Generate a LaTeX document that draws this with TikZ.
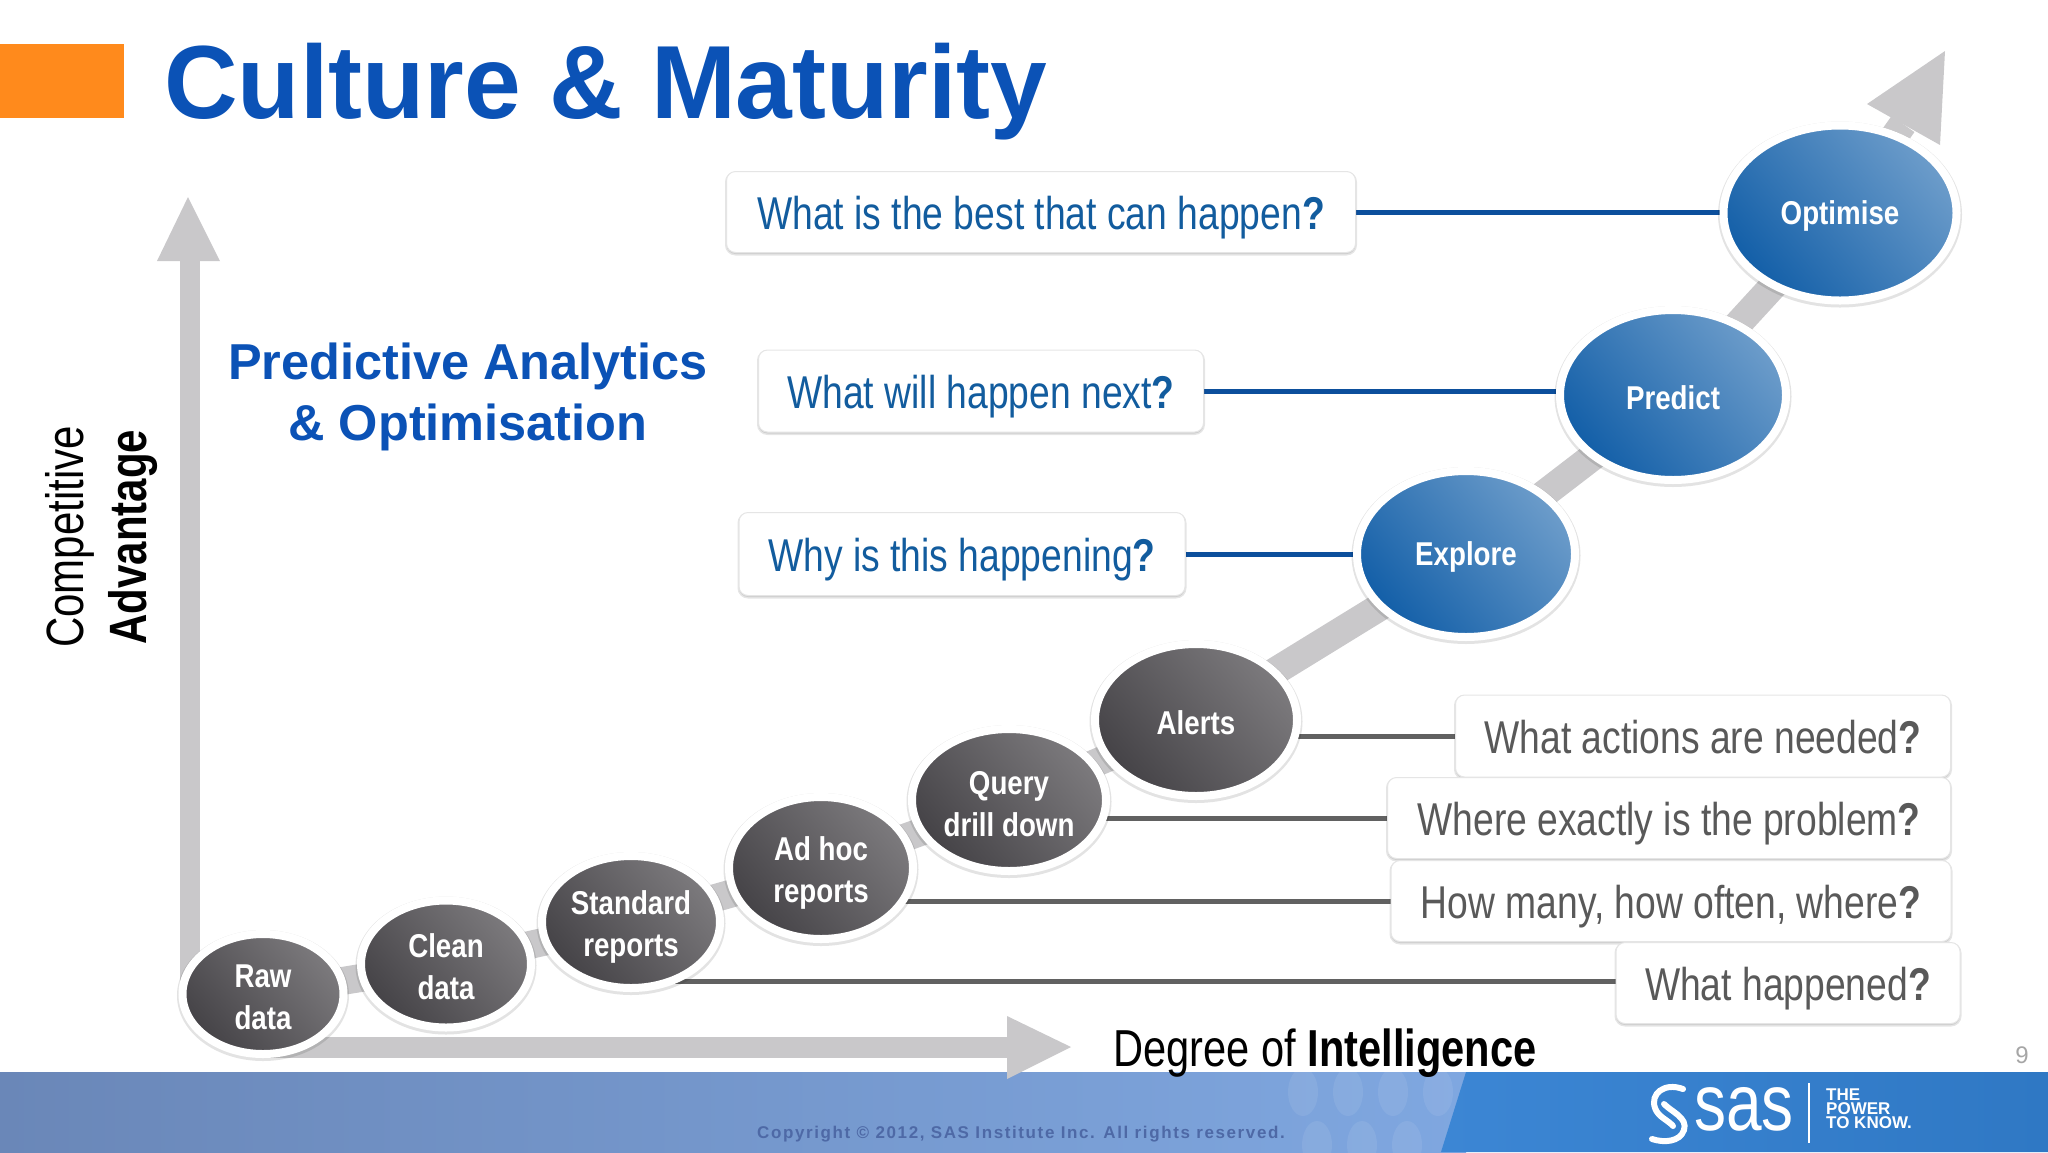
\documentclass[tikz,border=0pt]{standalone}
\usepackage{fontspec}
\setmainfont{Liberation Sans}
\newfontfamily\condfont[FakeStretch=0.8]{Liberation Sans}
\newfontfamily\askfont[FakeStretch=0.81]{Liberation Sans}
\newfontfamily\stagefont[FakeStretch=0.84]{Liberation Sans}
\newfontfamily\titlefont[FakeStretch=0.98]{Liberation Sans}
\usetikzlibrary{shapes.geometric,shadows,backgrounds}
\definecolor{sasblue}{HTML}{0B52B6}
\definecolor{linkblue}{HTML}{0C4F9C}
\definecolor{asktext}{HTML}{125C9E}
\definecolor{shaftgray}{HTML}{C9C8CA}
\definecolor{stagelight}{HTML}{6C9CCA}
\definecolor{stagedark}{HTML}{135FA8}
\definecolor{graylight}{HTML}{7C7A7D}
\definecolor{graydark}{HTML}{454347}
\definecolor{bandleft}{HTML}{6A87B8}
\definecolor{bandmid}{HTML}{7391CC}
\definecolor{bandright}{HTML}{7FA7E0}
\definecolor{sasleft}{HTML}{3C86D4}
\definecolor{sasright}{HTML}{2F78C4}
\definecolor{copytext}{HTML}{4E69A6}
\tikzset{
	stage/.style={ellipse, draw=white, line width=8pt, inner sep=0pt, align=center, text=white,
		font=\stagefont\bfseries\fontsize{33}{42}\selectfont, execute at begin node=\rule{0pt}{29pt},
		drop shadow={fill=black, draw=black, line width=11pt, opacity=0.11, shadow xshift=0pt, shadow yshift=-1.5pt}},
	twolines/.style={text depth=0pt, text height=#1},
	twolines/.default=70pt,
	graystage/.style={stage, top color=graylight, bottom color=graydark, shading angle=-50},
	bluestage/.style={stage, top color=stagelight, bottom color=stagedark, shading angle=-50},
	askbox/.style={rectangle, rounded corners=9pt, draw=black!10, line width=1pt, fill=white, inner sep=0pt,
		font=\askfont\fontsize{46}{50}\selectfont, text height=43pt, text depth=9pt,
		drop shadow={fill=black, draw=black, line width=3pt, opacity=0.1, shadow xshift=0pt, shadow yshift=-1.5pt}},
	shaft/.style={draw=shaftgray, line width=#1},
	bluelink/.style={draw=linkblue, line width=5pt},
	graylink/.style={draw=black!62, line width=5pt}
}
\begin{document}
\begin{tikzpicture}[x=1pt, y=-1pt]
	%%%%% START %%%%%
	\useasboundingbox (0, 0) rectangle (2048, 1152);
	
	\fill[fill={rgb,255:red,255;green,138;blue,28}] (0, 44) rectangle (124, 118);
	\node[anchor=base west, inner sep=0pt, text=sasblue, font=\titlefont\bfseries\fontsize{104}{110}\selectfont] (title) at (164, 118) {Culture \& Maturity};
	
	\node[align=center, text=sasblue, font=\bfseries\fontsize{50.5}{61}\selectfont] (subtitle) at (468, 397) {Predictive Analytics\\\& Optimisation};
	\node[rotate=90, font=\condfont\fontsize{52.5}{54}\selectfont] (competitive) at (70, 537) {Competitive};
	\node[rotate=90, font=\condfont\bfseries\fontsize{52.5}{54}\selectfont] (advantage) at (133, 537) {Advantage};
	\node[anchor=base, inner sep=0pt, font=\condfont\fontsize{52}{54}\selectfont] (degree) at (1325, 1066) {Degree of \textbf{Intelligence}};
	
	% stages
	\node[graystage, twolines, minimum width=161pt, minimum height=120pt] (raw) at (263, 994) {Raw\\data};
	\node[graystage, twolines, minimum width=170pt, minimum height=127pt] (clean) at (446, 964) {Clean\\data};
	\node[graystage, twolines=69pt, minimum width=178pt, minimum height=132pt] (standard) at (631, 922) {Standard\\reports};
	\node[graystage, twolines=69pt, minimum width=184pt, minimum height=142pt] (adhoc) at (821, 868) {Ad hoc\\reports};
	\node[graystage, twolines=72pt, minimum width=194pt, minimum height=142pt] (query) at (1009, 800) {Query\\drill down};
	\node[graystage, minimum width=202pt, minimum height=152pt] (alerts) at (1196, 720) {Alerts};
	\node[bluestage, minimum width=218pt, minimum height=166pt] (explore) at (1466, 554) {Explore};
	\node[bluestage, minimum width=226pt, minimum height=170pt] (predict) at (1673, 395) {Predict};
	\node[bluestage, minimum width=233pt, minimum height=175pt] (optimise) at (1840, 213) {Optimise};
	
	% questions
	\node[askbox, text=asktext, minimum width=629pt, minimum height=81pt] (best) at (1041, 212) {What is the best that can happen\textbf{?}};
	\node[askbox, text=asktext, minimum width=445pt, minimum height=82pt] (next) at (981, 391) {What will happen next\textbf{?}};
	\node[askbox, text=asktext, minimum width=446pt, minimum height=83pt] (why) at (962, 554) {Why is this happening\textbf{?}};
	\node[askbox, text=black!65, minimum width=495pt, minimum height=82pt] (actions) at (1703, 736) {What actions are needed\textbf{?}};
	\node[askbox, text=black!65, minimum width=563pt, minimum height=81pt] (problem) at (1669, 818) {Where exactly is the problem\textbf{?}};
	\node[askbox, text=black!65, minimum width=560pt, minimum height=81pt] (often) at (1671, 901) {How many, how often, where\textbf{?}};
	\node[askbox, text=black!65, minimum width=344pt, minimum height=81pt] (happened) at (1788, 983) {What happened\textbf{?}};
	
	% footer
	\node[text=black!35, font=\fontsize{24}{26}\selectfont] (page) at (2022, 1055) {9};
	\node[anchor=base, inner sep=0pt, text=copytext, font=\bfseries\fontsize{17}{20}\selectfont\addfontfeature{LetterSpace=9.5}] (copyright) at (1021, 1138) {Copyright © 2012, SAS Institute Inc. All rights reserved.};
	\node[anchor=base west, inner sep=0pt, text=white, font=\condfont\fontsize{80}{82}\selectfont] (sas) at (1694, 1130) {sas};
	\node[anchor=north west, inner sep=0pt, align=left, text=white, font=\bfseries\fontsize{17}{14}\selectfont] (power) at (1826, 1089) {THE\\POWER\\TO KNOW.};
	\draw[white, line width=6pt, line cap=round] (1683, 1089) .. controls (1664, 1082) and (1650, 1094) .. (1655, 1108) .. controls (1658, 1117) and (1668, 1120) .. (1673, 1126);
	\draw[white, line width=6pt, line cap=round] (1664, 1104) .. controls (1672, 1112) and (1688, 1118) .. (1684, 1130) .. controls (1680, 1142) and (1664, 1143) .. (1652, 1139);
	\draw[white, line width=1.5pt] (1809, 1083) -- (1809, 1143);
	
	\begin{scope}[on background layer]
		\shade[left color=bandleft, middle color=bandmid, right color=bandright] (0, 1072) rectangle (1466, 1152);
		\shade[left color=sasleft, right color=sasright] (1466, 1072) -- (2048, 1072) -- (2048, 1152) -- (1441, 1152) -- cycle;
		\foreach \x in {1303, 1348, 1393, 1438} \fill[white, opacity=0.08] (\x, 1092) ellipse (15 and 24);
		\foreach \x in {1317, 1362, 1407} \fill[white, opacity=0.08] (\x, 1145) ellipse (15 and 24);
		
		\coordinate (ytip) at (188, 197);
		\coordinate (ybase) at (190, 261);
		\coordinate (yfoot) at (190, 1000);
		\draw[shaft=20pt] (yfoot) -- (ybase);
		\fill[shaftgray] (ytip) -- (220, 261) -- (157, 261) -- cycle;
		
		\coordinate (xfoot) at (263, 1047);
		\coordinate (xbase) at (1007, 1047);
		\coordinate (xtip) at (1071, 1047);
		\draw[shaft=21pt] (xfoot) -- (xbase);
		\fill[shaftgray] (xtip) -- (1007, 1079) -- (1007, 1016) -- cycle;
		
		\coordinate (headbase) at (1903, 124);
		\draw[shaft=28pt, line join=round] (raw.center) -- (clean.center) -- (standard.center) -- (adhoc.center) -- (query.center) -- (alerts.center) -- (explore.center) -- (predict.center) -- (optimise.center) -- (headbase);
		\fill[shaftgray] (1945, 51) -- (1940, 145) -- (1867, 104) -- cycle;
		
		\draw[bluelink] (best.east) -- (best.east -| optimise.west);
		\draw[bluelink] (next.east) -- (next.east -| predict.west);
		\draw[bluelink] (why.east) -- (why.east -| explore.west);
		\draw[graylink] (actions.west) -- (actions.west -| alerts.center);
		\draw[graylink] (problem.west) -- (problem.west -| query.center);
		\draw[graylink] (often.west) -- (often.west -| adhoc.center);
		\draw[graylink] ([yshift=2pt]happened.west) -- ([yshift=2pt]happened.west -| standard.center);
	\end{scope}
	%%%%% END %%%%%
\end{tikzpicture}
\end{document}
